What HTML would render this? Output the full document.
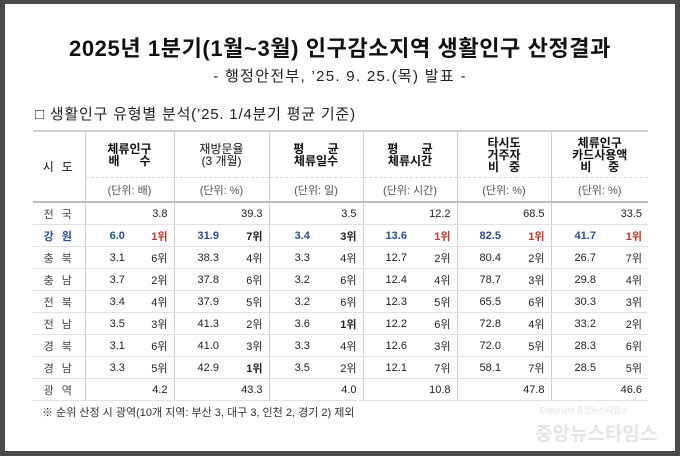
<!DOCTYPE html>
<html><head><meta charset="utf-8"><style>
html,body{margin:0;padding:0}
body{width:680px;height:456px;background:#4a4a4a;position:relative;overflow:hidden;font-family:"Liberation Sans","Noto Sans CJK KR","NanumGothic",sans-serif;color:#222}
#pg{position:absolute;left:5px;top:4px;width:670px;height:447px;background:#fff}
.t{position:absolute;white-space:nowrap}
table{position:absolute;left:33px;top:130px;border-collapse:collapse;table-layout:fixed;font-size:11px}
td{padding:0;height:21px;border-bottom:1px solid #e2e2e2;text-align:center;white-space:nowrap}
td.v{text-align:center;padding-left:6px}
.r{text-align:right;padding-right:6px}
.f{text-align:right;padding-right:6px}
.g{border-left:1px solid #cfcfcf}
.sd{letter-spacing:8px;padding-left:6px;color:#444}
.h1 td{height:45px;border-top:2px solid #cfcfcf;border-bottom:1px dashed #d8d8d8;font-size:12px;font-weight:bold;line-height:12px;color:#111}
.h2 td{height:23px;border-bottom:2px solid #bdbdbd;color:#555}
.b{color:#2d4f8f;font-weight:bold}
.rd{color:#c0392b;font-weight:bold}
.bk{font-weight:bold}
</style></head><body>
<div id="pg"></div>
<div class="t" style="left:0;width:680px;text-align:center;top:31px;font-size:22px;letter-spacing:0.6px;font-weight:bold;color:#111">2025년 1분기(1월~3월) 인구감소지역 생활인구 산정결과</div>
<div class="t" style="left:0;width:680px;text-align:center;top:65px;font-size:15px;letter-spacing:1.3px;color:#222">- 행정안전부, ’25. 9. 25.(목) 발표 -</div>
<div class="t" style="left:35px;top:103px;font-size:15px;letter-spacing:0.8px;color:#222">□ 생활인구 유형별 분석(’25. 1/4분기 평균 기준)</div>
<table>
<colgroup><col style="width:52px"><col style="width:58px"><col style="width:31px"><col style="width:62px"><col style="width:33px"><col style="width:60px"><col style="width:34px"><col style="width:60px"><col style="width:34px"><col style="width:60px"><col style="width:34px"><col style="width:62px"><col style="width:35px"></colgroup>
<tr class="h1"><td rowspan="2" class="sd" style="border-bottom:2px solid #bdbdbd;font-weight:normal;font-size:12px">시도</td>
<td colspan="2" class="g">체류인구<br>배&nbsp;&nbsp;&nbsp;&nbsp;&nbsp;&nbsp;수</td>
<td colspan="2" class="g" style="font-weight:normal">재방문율<br>(3 개월)</td>
<td colspan="2" class="g">평&nbsp;&nbsp;&nbsp;&nbsp;&nbsp;&nbsp;&nbsp;균<br>체류일수</td>
<td colspan="2" class="g">평&nbsp;&nbsp;&nbsp;&nbsp;&nbsp;&nbsp;&nbsp;균<br>체류시간</td>
<td colspan="2" class="g">타시도<br>거주자<br>비&nbsp;&nbsp;&nbsp;중</td>
<td colspan="2" class="g">체류인구<br>카드사용액<br>비&nbsp;&nbsp;&nbsp;&nbsp;&nbsp;중</td></tr>
<tr class="h2"><td colspan="2" class="g">(단위: 배)</td><td colspan="2" class="g">(단위: %)</td><td colspan="2" class="g">(단위: 일)</td><td colspan="2" class="g">(단위: 시간)</td><td colspan="2" class="g">(단위: %)</td><td colspan="2" class="g">(단위: %)</td></tr>
<tr><td class="sd">전국</td><td colspan="2" class="f g">3.8</td><td colspan="2" class="f g">39.3</td><td colspan="2" class="f g">3.5</td><td colspan="2" class="f g">12.2</td><td colspan="2" class="f g">68.5</td><td colspan="2" class="f g">33.5</td></tr>
<tr><td class="sd b">강원</td><td class="v g b">6.0</td><td class="r rd">1위</td><td class="v g b">31.9</td><td class="r bk">7위</td><td class="v g b">3.4</td><td class="r bk">3위</td><td class="v g b">13.6</td><td class="r rd">1위</td><td class="v g b">82.5</td><td class="r rd">1위</td><td class="v g b">41.7</td><td class="r rd">1위</td></tr>
<tr><td class="sd">충북</td><td class="v g">3.1</td><td class="r">6위</td><td class="v g">38.3</td><td class="r">4위</td><td class="v g">3.3</td><td class="r">4위</td><td class="v g">12.7</td><td class="r">2위</td><td class="v g">80.4</td><td class="r">2위</td><td class="v g">26.7</td><td class="r">7위</td></tr>
<tr><td class="sd">충남</td><td class="v g">3.7</td><td class="r">2위</td><td class="v g">37.8</td><td class="r">6위</td><td class="v g">3.2</td><td class="r">6위</td><td class="v g">12.4</td><td class="r">4위</td><td class="v g">78.7</td><td class="r">3위</td><td class="v g">29.8</td><td class="r">4위</td></tr>
<tr><td class="sd">전북</td><td class="v g">3.4</td><td class="r">4위</td><td class="v g">37.9</td><td class="r">5위</td><td class="v g">3.2</td><td class="r">6위</td><td class="v g">12.3</td><td class="r">5위</td><td class="v g">65.5</td><td class="r">6위</td><td class="v g">30.3</td><td class="r">3위</td></tr>
<tr><td class="sd">전남</td><td class="v g">3.5</td><td class="r">3위</td><td class="v g">41.3</td><td class="r">2위</td><td class="v g">3.6</td><td class="r bk">1위</td><td class="v g">12.2</td><td class="r">6위</td><td class="v g">72.8</td><td class="r">4위</td><td class="v g">33.2</td><td class="r">2위</td></tr>
<tr><td class="sd">경북</td><td class="v g">3.1</td><td class="r">6위</td><td class="v g">41.0</td><td class="r">3위</td><td class="v g">3.3</td><td class="r">4위</td><td class="v g">12.6</td><td class="r">3위</td><td class="v g">72.0</td><td class="r">5위</td><td class="v g">28.3</td><td class="r">6위</td></tr>
<tr><td class="sd">경남</td><td class="v g">3.3</td><td class="r">5위</td><td class="v g">42.9</td><td class="r bk">1위</td><td class="v g">3.5</td><td class="r">2위</td><td class="v g">12.1</td><td class="r">7위</td><td class="v g">58.1</td><td class="r">7위</td><td class="v g">28.5</td><td class="r">5위</td></tr>
<tr><td class="sd">광역</td><td colspan="2" class="f g">4.2</td><td colspan="2" class="f g">43.3</td><td colspan="2" class="f g">4.0</td><td colspan="2" class="f g">10.8</td><td colspan="2" class="f g">47.8</td><td colspan="2" class="f g">46.6</td></tr>
</table>
<div class="t" style="left:42px;top:404px;font-size:11px;color:#333">※ 순위 산정 시 광역(10개 지역: 부산 3, 대구 3, 인천 2, 경기 2) 제외</div>
<div class="t" style="left:540px;top:405px;font-size:8px;color:#ddd">Copyright 중앙뉴스타임스</div>
<div class="t" style="left:535px;top:419px;font-size:19px;font-weight:bold;color:#e4e4e4">중앙뉴스타임스</div>
</body></html>
